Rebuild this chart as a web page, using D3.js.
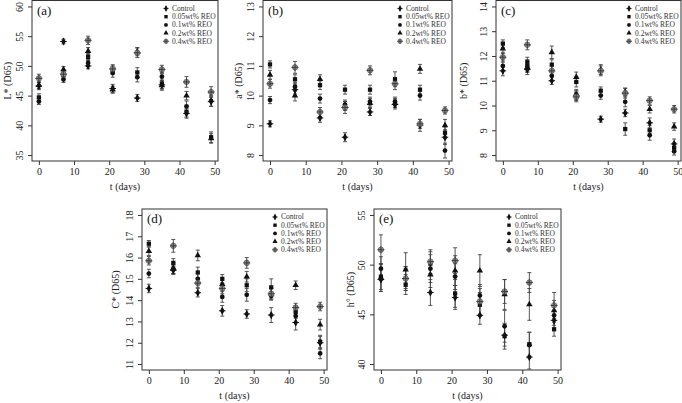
<!DOCTYPE html>
<html>
<head>
<meta charset="utf-8">
<script src="https://cdn.jsdelivr.net/npm/d3@7"></script>
<style>
  body { margin: 0; background: #fff; }
  svg { font-family: "Liberation Serif", "DejaVu Serif", serif; }
</style>
</head>
<body>
<div id="chart"></div>
<script>
const days = [0, 7, 14, 21, 28, 35, 42, 49]
const seriesNames = ['Control', '0.05wt% REO', '0.1wt% REO', '0.2wt% REO', '0.4wt% REO']

// rows: Control, 0.05, 0.1, 0.2, 0.4
const lStar = [
  [46.6, 54.1, 50.0, 46.2, 44.6, 46.8, 42.0, 44.0],
  [44.7, 48.5, 51.5, 49.3, 48.9, 47.0, 42.3, 38.0],
  [44.0, 47.7, 50.5, 48.8, 48.1, 48.2, 43.2, 44.1],
  [46.8, 49.4, 52.5, 46.0, 52.4, 46.7, 45.0, 37.8],
  [47.9, 48.6, 54.3, 49.5, 52.2, 49.4, 47.3, 45.6]
]
const lStarErr = [
  [0.6, 0.4, 0.5, 0.7, 0.6, 0.7, 0.8, 0.8],
  [0.6, 0.6, 0.6, 0.7, 0.8, 0.8, 0.9, 0.9],
  [0.5, 0.5, 0.6, 0.7, 0.8, 0.7, 0.9, 0.9],
  [0.6, 0.5, 0.6, 0.6, 0.7, 0.8, 0.7, 0.8],
  [0.7, 0.6, 0.7, 0.7, 0.8, 0.7, 0.9, 0.9]
]

const aStar = [
  [9.05, 10.2, 9.25, 8.6, 9.45, 9.7, 9.0, 8.6],
  [11.05, 10.55, 10.35, 10.2, 10.2, 10.55, 10.2, 8.75],
  [9.85, 10.3, 9.9, 9.7, 9.8, 9.8, 10.0, 8.15],
  [10.7, 10.0, 10.55, 9.65, 9.75, 9.75, 10.9, 9.0],
  [10.4, 10.95, 9.45, 9.6, 10.85, 10.4, 9.05, 9.5]
]
const aStarErr = [
  [0.1, 0.15, 0.15, 0.15, 0.12, 0.15, 0.2, 0.25],
  [0.12, 0.15, 0.15, 0.15, 0.15, 0.25, 0.15, 0.2],
  [0.12, 0.15, 0.15, 0.15, 0.15, 0.15, 0.15, 0.25],
  [0.15, 0.18, 0.15, 0.15, 0.15, 0.15, 0.15, 0.2],
  [0.15, 0.2, 0.15, 0.2, 0.15, 0.2, 0.15, 0.12]
]

const bStar = [
  [11.4, 11.45, 11.0, 10.4, 9.45, 9.7, 9.3, 8.45],
  [12.5, 11.75, 11.65, 10.95, 10.6, 9.05, 9.0, 8.3],
  [11.6, 11.6, 11.2, 10.45, 10.4, 10.15, 8.8, 8.15],
  [12.3, 11.55, 12.15, 11.15, 11.45, 10.55, 9.85, 9.15],
  [11.95, 12.45, 11.4, 10.35, 11.4, 10.5, 10.2, 9.85]
]
const bStarErr = [
  [0.2, 0.2, 0.15, 0.2, 0.12, 0.15, 0.2, 0.2],
  [0.15, 0.2, 0.2, 0.2, 0.15, 0.25, 0.2, 0.2],
  [0.2, 0.25, 0.2, 0.2, 0.15, 0.2, 0.2, 0.15],
  [0.2, 0.2, 0.25, 0.2, 0.2, 0.15, 0.15, 0.15],
  [0.2, 0.2, 0.2, 0.2, 0.2, 0.2, 0.15, 0.15]
]

const cStar = [
  [14.55, 15.4, 14.35, 13.5, 13.35, 13.3, 12.95, 12.0],
  [16.65, 15.75, 15.3, 15.0, 14.7, 14.6, 13.45, 12.05],
  [15.25, 15.45, 15.0, 14.15, 14.25, 14.2, 13.25, 11.5],
  [16.3, 15.5, 16.1, 14.75, 15.1, 14.3, 14.7, 12.85],
  [15.85, 16.55, 14.8, 14.55, 15.75, 14.3, 13.65, 13.7]
]
const cStarErr = [
  [0.2, 0.2, 0.2, 0.25, 0.2, 0.35, 0.35, 0.3],
  [0.15, 0.2, 0.25, 0.2, 0.3, 0.4, 0.3, 0.3],
  [0.2, 0.2, 0.25, 0.25, 0.3, 0.2, 0.3, 0.25],
  [0.2, 0.25, 0.25, 0.25, 0.25, 0.25, 0.2, 0.25],
  [0.2, 0.3, 0.2, 0.25, 0.25, 0.25, 0.2, 0.2]
]

const hAngle = [
  [48.5, 48.6, 47.2, 46.7, 44.9, 42.9, 40.7, 44.4],
  [48.8, 48.0, 50.1, 47.1, 46.0, 42.8, 42.0, 43.5],
  [49.6, 48.6, 49.6, 48.8, 46.9, 43.8, 41.9, 44.9],
  [48.7, 49.5, 49.0, 49.4, 49.4, 47.0, 46.0, 45.4],
  [51.5, 48.6, 50.3, 50.4, 46.3, 47.3, 48.2, 45.9]
]
const hAngleErr = [
  [1.2, 1.0, 1.3, 1.2, 0.9, 1.1, 1.2, 1.0],
  [1.3, 1.0, 1.2, 1.4, 1.2, 1.3, 1.2, 0.7],
  [1.2, 1.2, 1.4, 1.3, 1.1, 1.6, 1.3, 1.0],
  [1.4, 1.7, 1.3, 1.5, 1.6, 1.5, 1.6, 1.0],
  [1.5, 1.2, 1.2, 1.3, 1.3, 1.2, 1.0, 1.3]
]

const panels = [
  { tag: '(a)', title: 'L* (D65)', values: lStar, errs: lStarErr, yTicks: [35, 40, 45, 50, 55, 60],
    box: [32, 0.5, 218, 161], titleX: 7 },
  { tag: '(b)', title: 'a* (D65)', values: aStar, errs: aStarErr, yTicks: [8, 9, 10, 11, 12, 13],
    box: [263, 0.5, 452, 161], titleX: 238 },
  { tag: '(c)', title: 'b* (D65)', values: bStar, errs: bStarErr, yTicks: [8, 9, 10, 11, 12, 13, 14],
    box: [496, 0.5, 681, 161], titleX: 463 },
  { tag: '(d)', title: 'C* (D65)', values: cStar, errs: cStarErr, yTicks: [11, 12, 13, 14, 15, 16, 17, 18],
    box: [142, 209, 327, 370], titleX: 115 },
  { tag: '(e)', title: 'h° (D65)', values: hAngle, errs: hAngleErr, yTicks: [40, 45, 50, 55],
    box: [374, 209, 561, 370], titleX: 350 }
]

const width = 682
const height = 403

const svg = d3.select('#chart')
  .append('svg')
  .attr('width', width)
  .attr('height', height)

// R-style 4% padding around the data range
const pad = (lo, hi) => {
  const d = (hi - lo) * 0.04
  return [lo - d, hi + d]
}

const symbolFor = (i) => [d3.symbolDiamond, d3.symbolSquare, d3.symbolCircle, d3.symbolTriangle, d3.symbolCircle][i]

function drawMarker(g, i, cx, cy, s = 1) {
  const m = g.append('g').attr('transform', `translate(${cx},${cy}) scale(${s})`)
  if (i === 4) {
    m.append('path').attr('d', d3.symbol(d3.symbolCircle, 24)()).attr('fill', '#8a8a8a').attr('stroke', '#555').attr('stroke-width', 0.6)
    m.append('path').attr('d', 'M-3.5,0H3.5M0,-3.5V3.5').attr('stroke', '#333').attr('stroke-width', 0.9)
  } else if (i === 0) {
    m.append('path').attr('d', d3.symbol(d3.symbolDiamond, 18)()).attr('fill', '#111')
    m.append('path').attr('d', 'M-3.3,0H3.3M0,-3.3V3.3').attr('stroke', '#111').attr('stroke-width', 1)
  } else {
    m.append('path').attr('d', d3.symbol(symbolFor(i), 18)()).attr('fill', '#111')
  }
}

panels.forEach(p => {
  const [x0, y0, x1, y1] = p.box
  const x = d3.scaleLinear().domain(pad(0, 49)).range([x0, x1])
  const yExt = d3.extent(p.yTicks)
  const y = d3.scaleLinear().domain(pad(yExt[0], yExt[1])).range([y1, y0])

  const g = svg.append('g')

  // plot box
  g.append('rect')
    .attr('x', x0).attr('y', y0)
    .attr('width', x1 - x0).attr('height', y1 - y0)
    .attr('fill', 'none').attr('stroke', '#333').attr('stroke-width', 1)

  const xAxis = d3.axisBottom(x).tickValues([0, 10, 20, 30, 40, 50]).tickSize(4).tickPadding(3)
  g.append('g')
    .attr('transform', `translate(0,${y1})`)
    .call(xAxis)
    .call(a => a.select('.domain').remove())
    .call(a => a.selectAll('.tick line').attr('stroke', '#333'))
    .call(a => a.selectAll('.tick text').attr('font-size', 10).attr('fill', '#222')
      .attr('font-family', '"Liberation Serif", serif'))

  const yAxis = d3.axisLeft(y).tickValues(p.yTicks).tickSize(4).tickFormat(d3.format('d'))
  g.append('g')
    .attr('transform', `translate(${x0},0)`)
    .call(yAxis)
    .call(a => a.select('.domain').remove())
    .call(a => a.selectAll('.tick line').attr('stroke', '#333'))
    .call(a => a.selectAll('.tick text')
      .attr('font-size', 10).attr('fill', '#222')
      .attr('font-family', '"Liberation Serif", serif')
      .attr('x', null).attr('dy', null)
      .attr('text-anchor', 'middle')
      .attr('transform', 'translate(-9,0) rotate(-90)'))

  // axis titles
  g.append('text')
    .attr('x', (x0 + x1) / 2).attr('y', y1 + 29)
    .attr('text-anchor', 'middle').attr('font-size', 10).attr('fill', '#222')
    .text('t (days)')
  g.append('text')
    .attr('transform', `translate(${p.titleX},${(y0 + y1) / 2}) rotate(-90)`)
    .attr('text-anchor', 'middle').attr('dy', '0.35em').attr('font-size', 10).attr('fill', '#222')
    .text(p.title)

  // panel tag
  g.append('text')
    .attr('x', x0 + 5).attr('y', y0 + 14)
    .attr('font-size', 13).attr('fill', '#111')
    .text(p.tag)

  // error bars then markers
  const bars = g.append('g').attr('stroke', '#444').attr('stroke-width', 0.9)
  p.values.forEach((row, si) => {
    row.forEach((v, di) => {
      const cx = x(days[di])
      const e = p.errs[si][di]
      const top = y(v + e)
      const bot = y(v - e)
      bars.append('line').attr('x1', cx).attr('x2', cx).attr('y1', top).attr('y2', bot)
      bars.append('line').attr('x1', cx - 2).attr('x2', cx + 2).attr('y1', top).attr('y2', top)
      bars.append('line').attr('x1', cx - 2).attr('x2', cx + 2).attr('y1', bot).attr('y2', bot)
    })
  })
  p.values.forEach((row, si) => {
    row.forEach((v, di) => drawMarker(g, si, x(days[di]), y(v)))
  })

  // legend
  const lg = g.append('g').attr('transform', `translate(${x1 - 52},${y0 + 8})`)
  seriesNames.forEach((name, i) => {
    drawMarker(lg, i, 0, i * 8.2, 0.8)
    lg.append('text')
      .attr('x', 6).attr('y', i * 8.2).attr('dy', '0.33em')
      .attr('font-size', 7.5).attr('fill', '#333')
      .text(name)
  })
})
</script>
</body>
</html>
